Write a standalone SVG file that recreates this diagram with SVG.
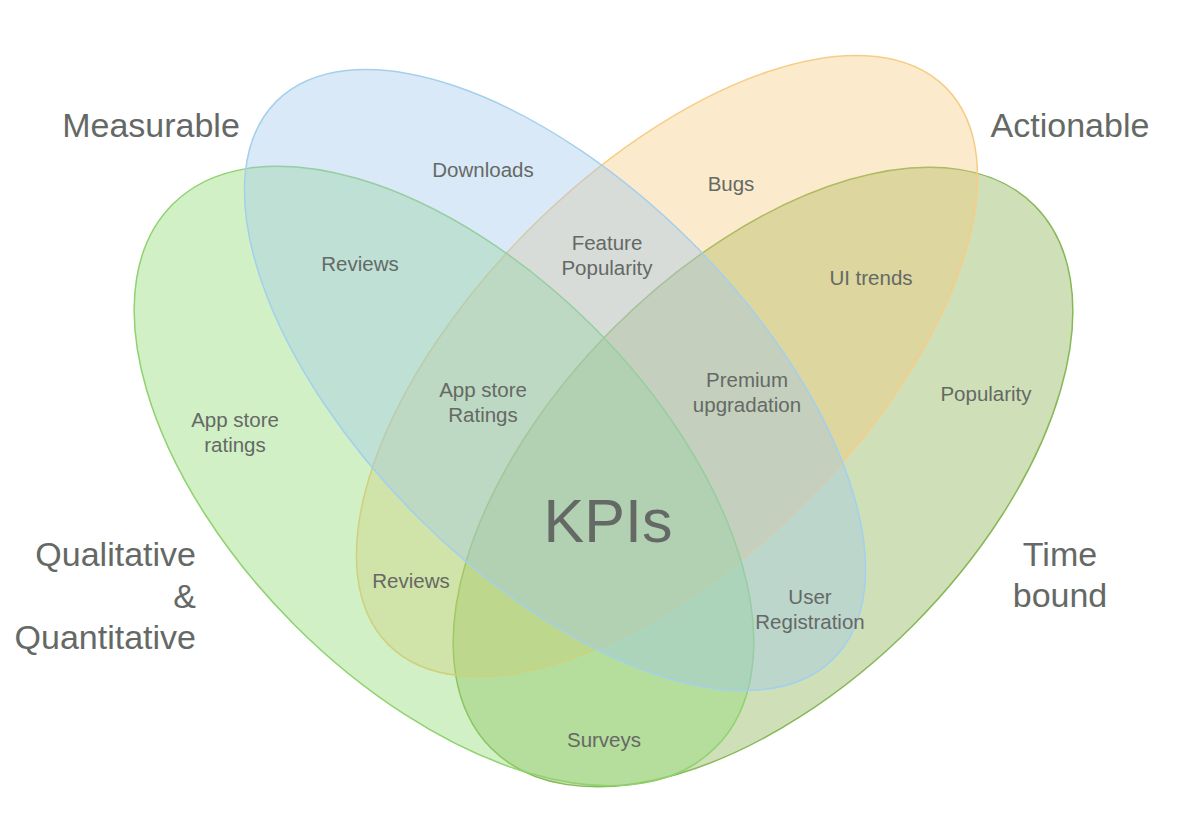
<svg xmlns="http://www.w3.org/2000/svg" width="1200" height="817" viewBox="0 0 1200 817">
<style>
.set{stroke-width:1.5}
.t{font-family:"Liberation Sans",Arial,sans-serif;fill:#656965;text-anchor:middle}
.s{font-size:20.5px}
.b{font-size:34px}
</style>
<rect width="1200" height="817" fill="#ffffff"/>
<g id="set-timebound"><ellipse class="set" cx="763" cy="477" rx="384" ry="211" transform="rotate(-45 763 477)" fill="#87b14e" fill-opacity="0.4" stroke="#86b857"/></g>
<g id="set-actionable"><ellipse class="set" cx="667" cy="366" rx="394" ry="194" transform="rotate(-45 667 366)" fill="#f6c36f" fill-opacity="0.35" stroke="#f7cc85"/></g>
<g id="set-qualitative"><ellipse class="set" cx="444" cy="476" rx="384" ry="211" transform="rotate(45 444 476)" fill="#8ed970" fill-opacity="0.4" stroke="#8fd26f"/></g>
<g id="set-measurable"><ellipse class="set" cx="555" cy="380" rx="394" ry="194" transform="rotate(45 555 380)" fill="#9fc9ea" fill-opacity="0.4" stroke="#a3d0ec"/></g>
<g id="labels">
<text class="t b" x="151" y="137">Measurable</text>
<text class="t b" x="1070" y="137">Actionable</text>
<text class="t b" x="196" y="566" style="text-anchor:end">Qualitative</text>
<text class="t b" x="196" y="608" style="text-anchor:end">&amp;</text>
<text class="t b" x="196" y="649" style="text-anchor:end">Quantitative</text>
<text class="t b" x="1060" y="566">Time</text>
<text class="t b" x="1060" y="607">bound</text>
<text class="t" x="608" y="542" style="font-size:61px">KPIs</text>
<text class="t s" x="483" y="177">Downloads</text>
<text class="t s" x="731" y="191">Bugs</text>
<text class="t s" x="607" y="250">Feature</text>
<text class="t s" x="607" y="275">Popularity</text>
<text class="t s" x="360" y="271">Reviews</text>
<text class="t s" x="871" y="285">UI trends</text>
<text class="t s" x="483" y="397">App store</text>
<text class="t s" x="483" y="422">Ratings</text>
<text class="t s" x="747" y="387">Premium</text>
<text class="t s" x="747" y="412">upgradation</text>
<text class="t s" x="986" y="401">Popularity</text>
<text class="t s" x="235" y="427">App store</text>
<text class="t s" x="235" y="452">ratings</text>
<text class="t s" x="411" y="588">Reviews</text>
<text class="t s" x="810" y="604">User</text>
<text class="t s" x="810" y="629">Registration</text>
<text class="t s" x="604" y="747">Surveys</text>
</g>
</svg>
